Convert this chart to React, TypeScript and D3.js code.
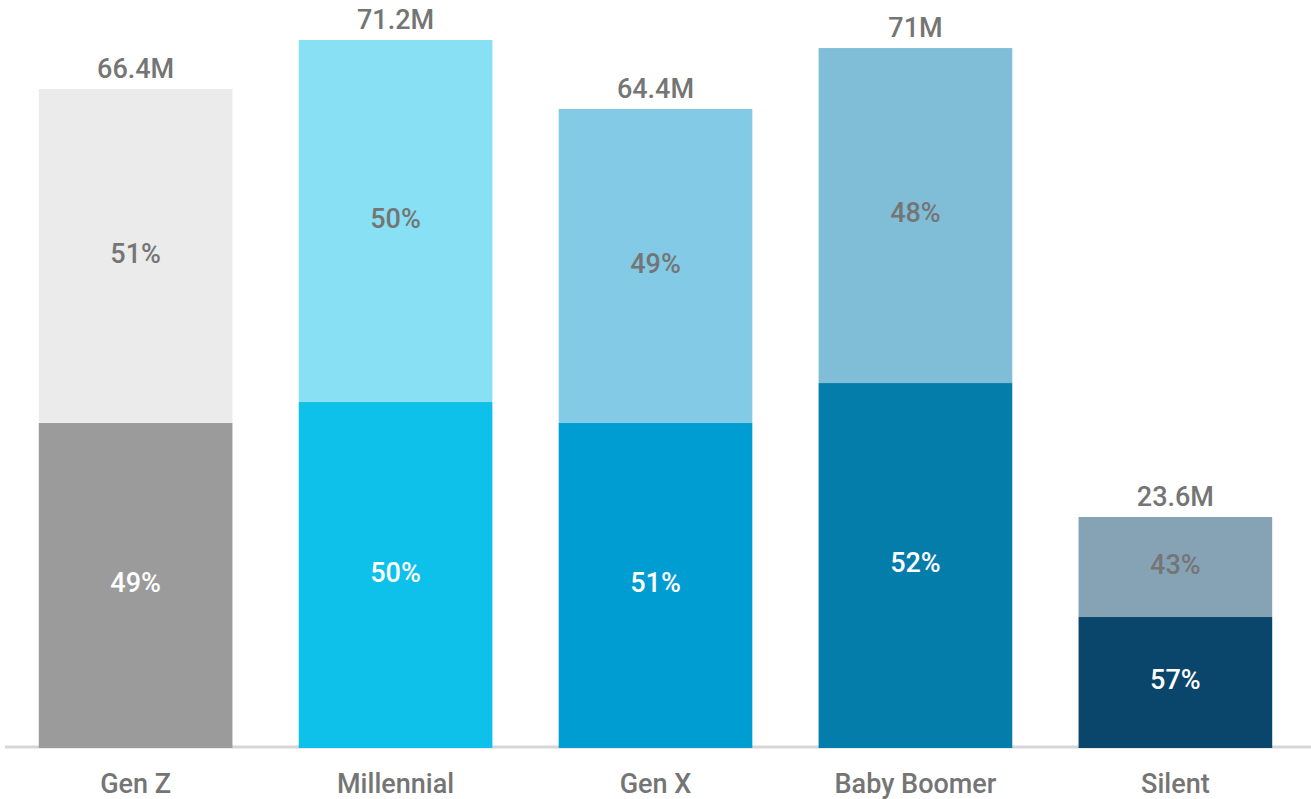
import React from "react";
import * as d3 from "d3";

const categories = ["Gen Z", "Millennial", "Gen X", "Baby Boomer", "Silent"];
const totals = [66.27, 71.2, 64.26, 70.39, 23.23];
const bottomValues = [32.68, 34.79, 32.68, 36.7, 13.17];
const totalLabels = ["66.4M", "71.2M", "64.4M", "71M", "23.6M"];
const bottomPct = [49, 50, 51, 52, 57];
const topPct = [51, 50, 49, 48, 43];
const bottomColors = ["#9b9b9b", "#0dc1eb", "#009dd3", "#047dab", "#0a456c"];
const topColors = ["#ebebeb", "#87e0f4", "#82cae6", "#80bdd7", "#86a3b6"];

const W = 1311;
const H = 799;
const baseY = 748;

export default function App() {
  const x = d3.scaleBand<string>().domain(categories).range([5, 1306]).paddingInner(0.255).paddingOuter(0.13);
  const y = d3.scaleLinear().domain([0, 71.2]).range([baseY, 40]);
  const font = "Roboto, sans-serif";
  return (
    <svg width={W} height={H} style={{ position: "absolute", left: 0, top: 0 }}>
      <line x1={5} x2={1311} y1={747} y2={747} stroke="#d6d6d6" strokeWidth={3} />
      {categories.map((c, i) => {
        const x0 = x(c)!;
        const bw = x.bandwidth();
        const yTop = y(totals[i]);
        const ySplit = y(bottomValues[i]);
        const cx = x0 + bw / 2;
        return (
          <g key={c}>
            <rect x={x0} y={yTop} width={bw} height={ySplit - yTop} fill={topColors[i]} />
            <rect x={x0} y={ySplit} width={bw} height={y(0) - ySplit} fill={bottomColors[i]} />
            <text x={cx} y={(yTop + ySplit) / 2} dy="0.25em" textAnchor="middle" fontFamily={font} fontSize={27} fontWeight={500} fill="#757575">
              {topPct[i]}%
            </text>
            <text x={cx} y={(ySplit + y(0)) / 2} dy="0.25em" textAnchor="middle" fontFamily={font} fontSize={27} fontWeight={500} fill="#ffffff">
              {bottomPct[i]}%
            </text>
            <text x={cx} y={yTop - 11} textAnchor="middle" fontFamily={font} fontSize={27} fontWeight={500} fill="#757575">
              {totalLabels[i]}
            </text>
            <text x={cx} y={793} textAnchor="middle" fontFamily={font} fontSize={27} fontWeight={500} fill="#757575">
              {c}
            </text>
          </g>
        );
      })}
    </svg>
  );
}
